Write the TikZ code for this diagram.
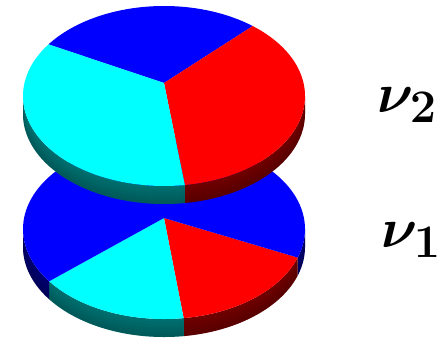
\documentclass[tikz,border=0pt]{standalone}
\usepackage{bm}
\definecolor{pblue}{RGB}{0,0,255}
\definecolor{pred}{RGB}{255,0,0}
\definecolor{pcyan}{RGB}{0,255,255}
\newcommand{\facesector}[7]{% color, vx, vy, cx, cy, a, b
  \fill[#1] (#2,#3) -- plot[domain=#6:#7,samples=90] ({#4+141*cos(\x)},{#5+90*sin(\x)}) -- cycle;}
\newcommand{\sidesector}[5]{% color, cx, cy, a, b
  \begin{scope}
    \clip plot[domain=#4:#5,samples=60] ({#2+141*cos(\x)},{#3+90*sin(\x)})
      -- plot[domain=#5:#4,samples=60] ({#2+141*cos(\x)},{#3+18+90*sin(\x)}) -- cycle;
    \shade[left color=#1!45!black, middle color=#1!90!black, right color=#1!45!black]
      ({#2-142},{#3-2}) rectangle ({#2+142},{#3+112});
    \foreach \k in {1,...,6}{
      \fill[black, opacity=0.035*\k] plot[domain=#4:#5,samples=60] ({#2+141*cos(\x)},{#3+3*\k-3+90*sin(\x)})
        -- plot[domain=#5:#4,samples=60] ({#2+141*cos(\x)},{#3+3*\k+90*sin(\x)}) -- cycle;}
  \end{scope}}
\tikzset{labeltext/.style={inner sep=0pt, scale=2.25}}
\begin{document}
\begin{tikzpicture}[x=1pt,y=-1pt]
\useasboundingbox (0,0) rectangle (443,340);
% bottom disc (nu_1)
\sidesector{pblue}{164}{229}{0}{18.5}
\sidesector{pred}{164}{229}{18.5}{82}
\sidesector{pcyan}{164}{229}{82}{144.5}
\sidesector{pblue}{164}{229}{144.5}{180}
\facesector{pred}{164}{218}{164}{229}{18.5}{82}
\facesector{pcyan}{164}{218}{164}{229}{82}{144.5}
\facesector{pblue}{164}{218}{164}{229}{144.5}{378.5}
% top disc (nu_2)
\sidesector{pred}{164}{96}{0}{81.5}
\sidesector{pcyan}{164}{96}{81.5}{180}
\facesector{pblue}{164}{83}{164}{96}{-145}{-51}
\facesector{pred}{164}{83}{164}{96}{-51}{81.5}
\facesector{pcyan}{164}{83}{164}{96}{81.5}{215}
% labels
\path (377,112) node[labeltext, anchor=base west] (n2) {\Huge$\bm{\nu}_{\bm{2}}$};
\path (381,247) node[labeltext, anchor=base west] (n1) {\Huge$\bm{\nu}_{\bm{1}}$};
\end{tikzpicture}
\end{document}
